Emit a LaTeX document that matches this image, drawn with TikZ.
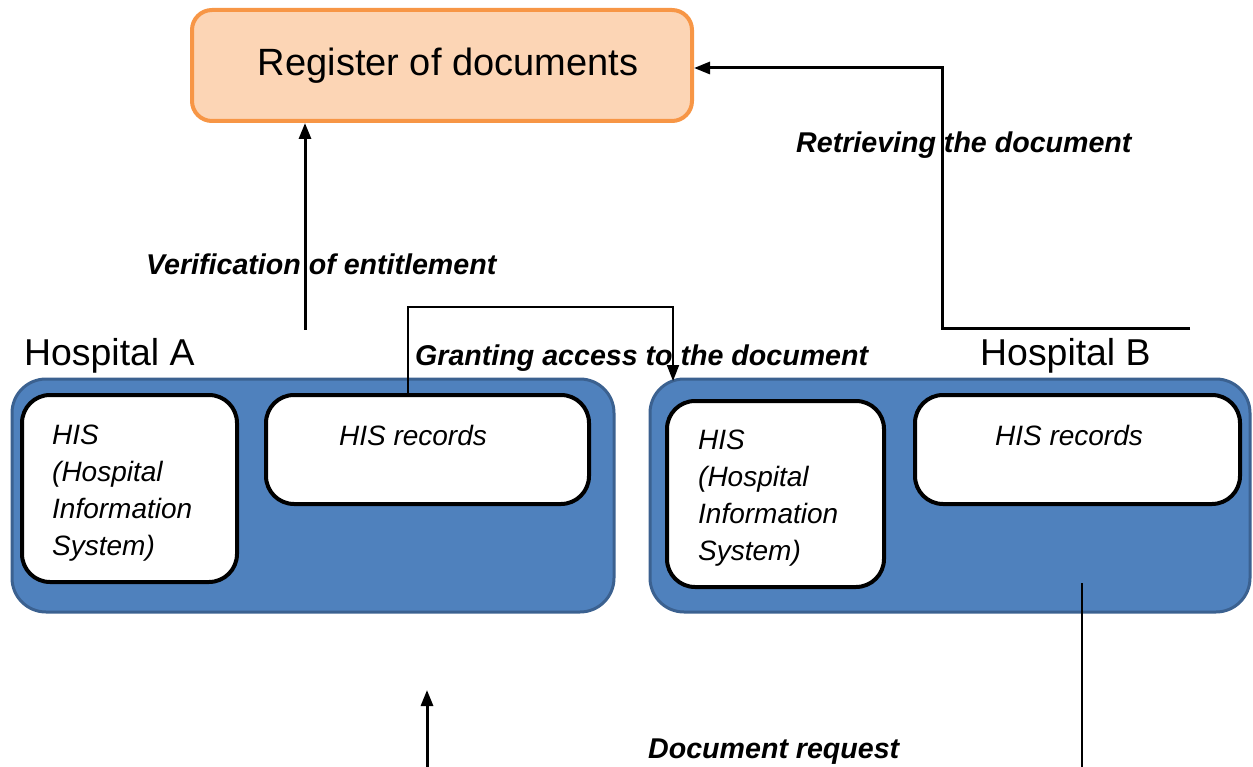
\documentclass[tikz,border=0pt]{standalone}
\usepackage{fontspec}
\setmainfont{Liberation Sans}
\usetikzlibrary{arrows.meta}
\definecolor{regfill}{HTML}{FCD5B5}
\definecolor{regdraw}{HTML}{F79646}
\definecolor{hospfill}{HTML}{4F81BD}
\definecolor{hospdraw}{HTML}{3B6190}
\tikzset{
  regbox/.style={draw=regdraw,fill=regfill,line width=4pt,rounded corners=20pt,inner sep=0pt},
  hospbox/.style={draw=hospdraw,fill=hospfill,line width=3pt,rounded corners=34pt,inner sep=0pt},
  whitebox/.style={draw=black,fill=white,line width=4pt,rounded corners=28pt,inner sep=0pt},
  lbl/.style={inner sep=0pt,font=\fontsize{28.6}{34}\selectfont\bfseries\itshape},
  hislbl/.style={inner sep=0pt,align=left,font=\fontsize{28}{37}\selectfont\itshape},
  hosplbl/.style={inner sep=0pt,font=\fontsize{37.4}{44}\selectfont},
  arr/.style={line width=3pt,-{Triangle[length=16pt,width=12pt]}},
  thinarr/.style={line width=1.8pt,-{Triangle[length=16pt,width=12pt]}},
}
\begin{document}
\begin{tikzpicture}[x=1pt,y=-1pt]
\useasboundingbox (0,0) rectangle (1253,767);
% register
\node[regbox,minimum width=500pt,minimum height=111pt] (reg) at (442,65.5) {};
\node[inner sep=0pt,anchor=base,font=\fontsize{38}{44}\selectfont] (regt) at (448,76) {Register of documents};
% hospital A
\node[hospbox,minimum width=602pt,minimum height=233pt] (hospA) at (313,495.5) {};
\node[whitebox,minimum width=215pt,minimum height=187pt] (hisA) at (129.5,488.5) {};
\node[whitebox,minimum width=323pt,minimum height=109pt] (recA) at (427.5,449.5) {};
\node[hislbl,anchor=north west] (hisAt) at (52,425) {HIS\\(Hospital\\Information\\System)};
\node[hislbl,anchor=base] (recAt) at (413,445) {HIS records};
\node[hosplbl,anchor=base west] (hAt) at (24,365) {Hospital A};
% hospital B
\node[hospbox,minimum width=600pt,minimum height=233pt] (hospB) at (950,495.5) {};
\node[whitebox,minimum width=217pt,minimum height=186pt] (hisB) at (775.5,494) {};
\node[whitebox,minimum width=325pt,minimum height=109pt] (recB) at (1077.5,449.5) {};
\node[hislbl,anchor=north west] (hisBt) at (698,430) {HIS\\(Hospital\\Information\\System)};
\node[hislbl,anchor=base] (recBt) at (1069,445) {HIS records};
\node[hosplbl,anchor=base west] (hBt) at (980,365) {Hospital B};
% labels
\node[lbl,anchor=base west] (lver) at (146,275) {Verification of entitlement};
\node[lbl,anchor=base west] (lret) at (796,153) {Retrieving the document};
\node[lbl,anchor=base west] (lgra) at (415,365) {Granting access to the document};
\node[lbl,anchor=base west] (ldoc) at (648,758) {Document request};
% connector coordinates
\coordinate (vstart) at (305,330);
\coordinate (rstart) at (1190,329);
\coordinate (rbend1) at (942,329);
\coordinate (rbend2) at (942,68);
\coordinate (gbend1) at (408,307);
\coordinate (gbend2) at (673,307);
\coordinate (gend) at (673,381);
\coordinate (dstart) at (427,767);
\coordinate (dend) at (427,690);
\coordinate (bstart) at (1082,767);
\coordinate (bend) at (1082,583);
% connectors
\draw[arr] (vstart) -- (vstart |- reg.south);
\draw[arr] (rstart) -- (rbend1) -- (rbend2) -- (reg.east |- rbend2);
\draw[thinarr] (gbend1 |- recA.north) -- (gbend1) -- (gbend2) -- (gend);
\draw[arr] (dstart) -- (dend);
\draw[line width=1.8pt] (bstart) -- (bend);
\end{tikzpicture}
\end{document}
